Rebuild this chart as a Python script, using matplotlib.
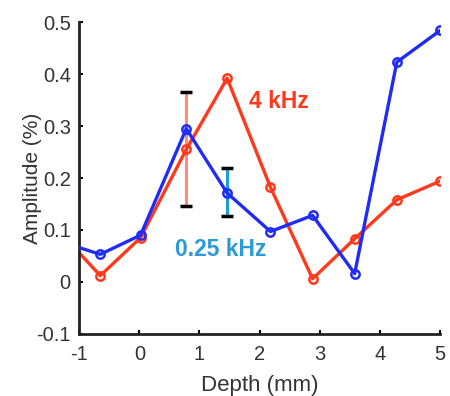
import matplotlib
matplotlib.use("Agg")
import matplotlib.pyplot as plt

plt.rcParams["font.family"] = ["Liberation Sans", "DejaVu Sans"]
plt.rcParams["axes.unicode_minus"] = False

# depth positions (mm); first point sits on the left axis edge
depth = [-1.0, -0.65, 0.02, 0.78, 1.46, 2.18, 2.88, 3.58, 4.28, 5.0]
amp_4khz = [0.056, 0.012, 0.085, 0.255, 0.392, 0.182, 0.006, 0.083, 0.158, 0.194]
amp_025khz = [0.066, 0.053, 0.090, 0.295, 0.171, 0.097, 0.128, 0.016, 0.423, 0.484]

# error bars (x, centre, low, high)
err_4khz = (0.78, 0.255, 0.146, 0.365)
err_025khz = (1.46, 0.171, 0.127, 0.220)

RED = "#ff3a1c"
BLUE = "#1f2cf5"
RED_ERR = "#ff8a80"
CYAN_ERR = "#1b9fd4"
CYAN_TXT = "#2b9ad6"

fig = plt.figure(figsize=(4.5, 3.96), dpi=100)
ax = fig.add_axes([0.176, 0.157, 0.802, 0.787])

for (x, c, lo, hi), col in [(err_4khz, RED_ERR), (err_025khz, CYAN_ERR)]:
    ax.errorbar([x], [c], yerr=[[c - lo], [hi - c]], fmt="none",
                ecolor=col, elinewidth=2.2, capsize=0, zorder=1)
    ax.plot([x], [lo], marker="_", color="black", markersize=8,
            markeredgewidth=2.5, zorder=1)
    ax.plot([x], [hi], marker="_", color="black", markersize=8,
            markeredgewidth=2.5, zorder=1)

marks = list(range(1, len(depth)))
ax.plot(depth, amp_4khz, color=RED, linewidth=2.4, marker="o", markersize=6,
        markerfacecolor="none", markeredgewidth=1.8, markevery=marks, zorder=2)
ax.plot(depth, amp_025khz, color=BLUE, linewidth=2.4, marker="o", markersize=6,
        markerfacecolor="none", markeredgewidth=1.8, markevery=marks, zorder=3)

ax.text(1.83, 0.348, "4 kHz", color=RED, fontsize=16.5, fontweight="bold",
        va="center", ha="left")
ax.text(0.6, 0.062, "0.25 kHz", color=CYAN_TXT, fontsize=16.5, fontweight="bold",
        va="center", ha="left")

ax.set_xlim(-1, 5)
ax.set_ylim(-0.1, 0.5)
ax.set_xticks(range(-1, 6))
ax.set_yticks([-0.1, 0, 0.1, 0.2, 0.3, 0.4, 0.5])
ax.set_yticklabels(["-0.1", "0", "0.1", "0.2", "0.3", "0.4", "0.5"])
ax.set_xlabel("Depth (mm)", fontsize=16, color="#333333", labelpad=8)
ax.set_ylabel("Amplitude (%)", fontsize=15, color="#333333", labelpad=-4)

for side in ("top", "right"):
    ax.spines[side].set_visible(False)
for side in ("left", "bottom"):
    ax.spines[side].set_linewidth(2)
    ax.spines[side].set_color("#222222")
ax.tick_params(direction="in", length=3, width=1.5, labelsize=14.5,
               labelcolor="#333333", pad=6)
ax.tick_params(axis="x", pad=8)

fig.savefig("out.png", dpi=100)
